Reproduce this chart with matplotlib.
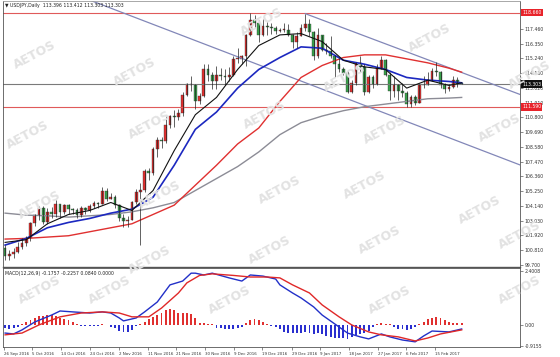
import matplotlib
matplotlib.use("Agg")
import matplotlib.pyplot as plt
import matplotlib.transforms as mtransforms
import numpy as np

# ---------------- data ----------------
opens = [101.00, 100.40, 100.50, 100.70, 101.05, 101.35, 101.70, 102.85, 103.45, 103.95,
         102.95, 103.65, 103.50, 104.25, 103.65, 104.20, 103.90, 103.85, 103.45, 103.95,
         103.80, 104.15, 104.35, 104.30, 105.25, 104.70, 104.80, 104.20, 103.20, 103.00,
         103.10, 104.45, 105.20, 105.35, 106.80, 106.60, 108.40, 109.10, 109.00, 110.20,
         110.90, 110.80, 111.10, 112.50, 113.30, 113.20, 112.00, 112.40, 114.40, 114.00,
         113.50, 114.00, 113.90, 113.80, 114.00, 115.20, 115.20, 115.40, 117.00, 118.10,
         117.90, 117.00, 117.70, 117.60, 117.50, 117.30, 117.40, 117.40, 117.00, 116.50,
         116.95, 117.50, 117.80, 117.20, 115.40, 117.00, 115.90, 115.80, 115.40, 114.80,
         114.40, 114.10, 112.70, 113.40, 114.90, 114.60, 112.70, 113.80, 113.30, 114.50,
         115.10, 114.00, 112.80, 113.20, 112.80, 112.60, 111.80, 112.30, 111.90, 113.20,
         113.20, 113.60, 114.30, 114.20, 113.20, 112.90, 113.10, 113.60, 113.396]
highs = [101.20, 100.80, 101.00, 101.40, 101.70, 101.90, 102.95, 103.50, 104.15, 104.10,
         104.00, 104.05, 104.60, 104.30, 104.30, 104.25, 104.00, 103.95, 104.10, 104.05,
         104.25, 104.55, 104.45, 105.55, 105.50, 105.10, 105.00, 104.25, 103.50, 103.35,
         104.50, 105.45, 105.85, 106.90, 107.00, 108.55, 109.35, 109.30, 110.90, 111.00,
         111.35, 111.40, 112.70, 113.40, 113.90, 113.30, 112.60, 114.80, 114.80, 114.20,
         114.70, 114.50, 114.40, 114.60, 115.40, 116.00, 115.50, 117.10, 118.66, 118.50,
         118.10, 118.20, 118.00, 117.90, 117.70, 117.50, 117.90, 117.80, 117.05, 117.20,
         117.80, 118.60, 118.20, 117.30, 117.50, 117.00, 116.40, 116.90, 115.50, 115.30,
         114.60, 114.30, 113.60, 115.00, 115.40, 114.80, 114.00, 114.00, 114.80, 115.40,
         115.20, 114.20, 113.90, 113.30, 113.40, 112.80, 112.50, 112.50, 113.30, 113.90,
         114.20, 114.50, 114.95, 114.30, 113.40, 113.30, 113.90, 113.80, 113.412]
lows = [100.10, 100.10, 100.20, 100.60, 100.90, 101.10, 101.50, 102.60, 103.10, 102.80,
        102.80, 103.20, 103.30, 103.20, 103.50, 103.55, 103.50, 103.20, 103.30, 103.50,
        103.70, 104.00, 104.00, 104.25, 104.50, 104.65, 104.00, 103.00, 102.55, 102.55,
        103.05, 104.30, 101.20, 105.20, 106.10, 106.50, 107.80, 108.50, 108.90, 110.00,
        110.10, 110.60, 110.90, 112.40, 112.80, 111.40, 111.80, 112.30, 113.50, 112.90,
        112.90, 113.60, 113.20, 113.50, 113.90, 114.90, 114.80, 114.70, 116.90, 117.60,
        116.50, 116.90, 117.00, 117.10, 117.10, 117.20, 117.20, 116.90, 116.05, 116.00,
        116.95, 117.30, 116.90, 115.10, 115.30, 115.80, 115.60, 115.30, 113.80, 114.20,
        114.00, 112.60, 112.60, 113.20, 114.20, 112.50, 112.60, 113.00, 113.20, 114.40,
        113.90, 112.10, 112.30, 112.10, 112.30, 111.60, 111.59, 111.70, 111.90, 113.00,
        113.20, 113.50, 113.90, 113.00, 112.60, 112.80, 113.00, 113.10, 113.303]
closes = [100.40, 100.50, 100.70, 101.05, 101.35, 101.70, 102.85, 103.45, 103.95, 102.95,
          103.65, 103.50, 104.25, 103.65, 104.20, 103.90, 103.85, 103.45, 103.95, 103.80,
          104.15, 104.35, 104.30, 105.25, 104.70, 104.80, 104.20, 103.20, 103.00, 103.10,
          104.45, 105.20, 105.35, 106.80, 106.60, 108.40, 109.10, 109.00, 110.20, 110.90,
          110.80, 111.10, 112.50, 113.30, 113.20, 112.00, 112.40, 114.40, 114.00, 113.50,
          114.00, 113.90, 113.80, 114.00, 115.20, 115.20, 115.40, 117.00, 118.10, 117.90,
          117.00, 117.70, 117.60, 117.50, 117.30, 117.40, 117.40, 117.00, 116.50, 116.95,
          117.50, 117.80, 117.20, 115.40, 117.00, 115.90, 115.80, 115.40, 114.80, 114.40,
          114.10, 112.70, 113.40, 114.90, 114.60, 112.70, 113.80, 113.30, 114.50, 115.10,
          114.00, 112.80, 113.20, 112.80, 112.60, 111.80, 112.30, 111.90, 113.20, 113.20,
          113.60, 114.30, 114.20, 113.20, 112.90, 113.10, 113.60, 113.30, 113.303]

# moving averages, read every few bars
ma_idx = [0, 5, 10, 15, 20, 25, 30, 35, 40, 45, 50, 55, 60, 65, 70, 75, 80, 85, 90, 95, 100, 105, 108]
ma_black = [101.4, 101.6, 102.8, 103.5, 103.8, 104.4, 103.8, 105.3, 108.3, 111.0, 112.3, 114.4, 116.2,
            117.0, 117.1, 116.5, 115.1, 114.6, 114.4, 113.0, 113.6, 113.2, 113.4]
ma_blue = [101.2, 101.7, 102.5, 102.9, 103.2, 103.6, 103.9, 104.8, 107.2, 109.9, 111.2, 113.0, 114.4,
           115.3, 116.1, 116.0, 115.1, 114.8, 114.4, 113.8, 113.6, 113.5, 113.4]
ma_red = [101.65, 101.7, 101.8, 101.9, 102.2, 102.5, 102.8, 103.5, 104.2, 105.7, 107.2, 108.8, 110.0,
          112.0, 113.8, 114.7, 115.3, 115.5, 115.5, 115.2, 114.9, 114.5, 114.2]
ma_gray = [103.6, 103.45, 103.4, 103.3, 103.4, 103.5, 103.7, 104.0, 104.4, 105.3, 106.2, 107.1, 108.2,
           109.5, 110.4, 110.9, 111.3, 111.6, 111.8, 112.0, 112.2, 112.25, 112.3]

# MACD panel
macd_idx = [0, 2, 4, 7, 11, 13, 16, 20, 23, 25, 27, 28, 31, 33, 36, 39, 42, 44, 45, 47, 49, 53, 56,
            58, 61, 64, 65, 68, 70, 73, 75, 79, 81, 84, 86, 89, 91, 94, 97, 99, 101, 105, 108]
macd_main = [-0.36, -0.40, -0.22, 0.13, 0.44, 0.62, 0.58, 0.53, 0.58, 0.53, 0.31, 0.18, 0.31, 0.58,
             1.02, 1.78, 1.95, 2.30, 2.30, 2.22, 2.30, 2.09, 1.95, 2.22, 2.17, 2.04, 1.78, 1.42, 1.20,
             0.80, 0.44, -0.09, -0.36, -0.53, -0.62, -0.40, -0.53, -0.67, -0.75, -0.49, -0.27, -0.31,
             -0.18]
sig_idx = [0, 4, 8, 13, 18, 23, 27, 30, 34, 37, 41, 43, 46, 49, 54, 58, 62, 65, 68, 72, 75, 79, 82,
           86, 89, 93, 97, 100, 103, 108]
macd_signal = [-0.44, -0.36, 0.0, 0.36, 0.53, 0.58, 0.53, 0.36, 0.36, 0.75, 1.42, 1.87, 2.20, 2.27,
               2.20, 2.13, 2.13, 2.09, 1.78, 1.42, 0.89, 0.36, 0.0, -0.31, -0.44, -0.53, -0.71, -0.58,
               -0.40, -0.22]
macd_hist = [-0.15, -0.20, -0.15, -0.10, 0.05, 0.12, 0.20, 0.30, 0.38, 0.40, 0.42, 0.44, 0.38, 0.32,
             0.28, 0.20, 0.12, 0.05, -0.03, -0.05, -0.05, -0.04, -0.03, 0.02, -0.02, -0.08, -0.15,
             -0.28, -0.33, -0.30, -0.22, -0.05, 0.05, 0.15, 0.25, 0.35, 0.45, 0.55, 0.65, 0.71, 0.66,
             0.55, 0.53, 0.52, 0.50, 0.31, 0.10, 0.08, 0.05, 0.03, -0.12, -0.15, -0.20, -0.20, -0.18,
             -0.15, -0.08, 0.10, 0.20, 0.25, 0.22, 0.12, 0.05, -0.05, -0.10, -0.20, -0.30, -0.35,
             -0.38, -0.38, -0.35, -0.30, -0.35, -0.40, -0.38, -0.42, -0.48, -0.52, -0.58, -0.60,
             -0.58, -0.62, -0.55, -0.45, -0.40, -0.35, -0.25, -0.10, 0.05, 0.07, 0.05, 0.02, -0.10,
             -0.18, -0.20, -0.22, -0.20, -0.10, 0.05, 0.15, 0.25, 0.33, 0.36, 0.30, 0.20, 0.12, 0.10,
             0.08, 0.08]

# trend lines (bar index, price)
channel_upper = [(20, 119.62), (122, 107.2)]
channel_lower = [(71, 118.60), (122, 112.5)]
resistance = 118.66
support = 111.59
last_price = 113.303

price_ticks = [99.70, 100.81, 101.92, 103.03, 104.14, 105.25, 106.36, 107.47, 108.58, 109.69,
               110.80, 111.91, 113.02, 114.13, 115.24, 116.35, 117.46]
macd_ticks = [2.4008, 0.0, -0.9155]
macd_tick_labels = ["2.4008", "0.00", "-0.9155"]
date_labels = ["26 Sep 2016", "5 Oct 2016", "14 Oct 2016", "24 Oct 2016", "2 Nov 2016",
               "11 Nov 2016", "21 Nov 2016", "30 Nov 2016", "9 Dec 2016", "19 Dec 2016",
               "29 Dec 2016", "9 Jan 2017", "18 Jan 2017", "27 Jan 2017", "6 Feb 2017",
               "15 Feb 2017"]
# bar position of each date label (MT4 spaces them evenly)
date_pos = [-0.3, 6.3, 13.2, 20.1, 26.9, 33.8, 40.4, 47.3, 54.1, 60.8, 67.9, 74.5, 81.4, 88.2,
            94.9, 101.8]

header = "USDJPY,Daily  113.396 113.412 113.303 113.303"
macd_header = "MACD(12,26,9) -0.1757 -0.2257 0.0840 0.0000"

# ---------------- figure ----------------
W, H = 560, 357
fig = plt.figure(figsize=(W / 100, H / 100), dpi=100)
fig.patch.set_facecolor("white")


def px_axes(x0, y0, x1, y1):
    return fig.add_axes([x0 / W, 1 - y1 / H, (x1 - x0) / W, (y1 - y0) / H])


ax = px_axes(3, 1, 520, 267)
mx = px_axes(3, 268, 520, 347)

UP = "#e0302f"
DOWN = "#38a04a"
idx = np.arange(len(closes))
o = np.array(opens)
c = np.array(closes)
body_low = np.minimum(o, c)
body_h = np.maximum(np.abs(c - o), 0.03)
cols = [UP if cc >= oo else DOWN for oo, cc in zip(o, c)]

# watermark
wm = [(35, 55), (135, 72), (262, 22), (345, 78), (430, 38), (530, 75),
      (28, 135), (150, 125), (265, 115), (385, 130), (500, 128),
      (40, 205), (160, 195), (280, 190), (365, 185), (480, 210),
      (150, 260), (270, 250), (380, 240), (520, 235),
      (40, 290), (110, 290), (230, 300), (390, 300), (520, 290)]
for x, y in wm:
    fig.text(x / W, 1 - y / H, "AETOS", fontsize=9, fontweight="bold", color="#e2e2e2",
             rotation=28, ha="center", va="center", zorder=0)

ax.patch.set_alpha(0)
mx.patch.set_alpha(0)

ax.axhline(resistance, color="#e05a5a", lw=0.8)
ax.axhline(support, color="#e05a5a", lw=0.8)
ax.axhline(last_price, color="#7a7a7a", lw=0.8)
for line in (channel_upper, channel_lower):
    ax.plot([p[0] for p in line], [p[1] for p in line], color="#8287b8", lw=0.9)

ax.plot(ma_idx, ma_gray, color="#8c8c96", lw=1.0)
ax.plot(ma_idx, ma_red, color="#e03030", lw=1.0)
ax.plot(ma_idx, ma_blue, color="#1c28c0", lw=1.2)

ax.vlines(idx, lows, highs, color="#222222", lw=0.5)
ax.bar(idx, body_h, bottom=body_low, width=0.65, color=cols, edgecolor="#333333", linewidth=0.25)
ax.plot(ma_idx, ma_black, color="#111111", lw=0.8)

ax.set_xlim(-0.5, 121.8)
ax.set_ylim(99.55, 119.55)
ax.yaxis.tick_right()
ax.set_yticks(price_ticks)
ax.set_yticklabels(["%.3f" % v for v in price_ticks])
ax.set_xticks([])
ax.tick_params(axis="y", labelsize=3.3, length=2, width=0.4, pad=1.5, colors="#333333")
for s in ax.spines.values():
    s.set_color("#555555")
    s.set_linewidth(0.6)
ax.spines["top"].set_color("#9a9a9a")
ax.spines["bottom"].set_linewidth(1.0)

trans = mtransforms.blended_transform_factory(ax.transAxes, ax.transData)
for val, bg in [(resistance, "#e8232a"), (support, "#e8232a"), (last_price, "#111111")]:
    ax.text(1.004, val, "%.3f" % val, transform=trans, fontsize=3.3, color="white",
            va="center", ha="left", bbox=dict(boxstyle="square,pad=0.25", fc=bg, ec="none"))

ax.text(0.004, 0.992, "\u25bc " + header, transform=ax.transAxes, fontsize=3.3,
        color="#222222", va="top", ha="left")

# MACD
hcols = [UP if h > 0 else "#2a2fcf" for h in macd_hist]
mx.bar(idx, macd_hist, width=0.45, color=hcols)
mx.plot(macd_idx, macd_main, color="#2230c8", lw=1.0)
mx.plot(sig_idx, macd_signal, color="#e02828", lw=1.0)
mx.set_xlim(-0.5, 121.8)
mx.set_ylim(-0.98, 2.53)
mx.yaxis.tick_right()
mx.set_yticks(macd_ticks)
mx.set_yticklabels(macd_tick_labels)
mx.set_xticks(date_pos)
mx.set_xticklabels(date_labels, ha="left")
mx.tick_params(labelsize=3.3, length=2, width=0.4, pad=1.5, colors="#333333")
mx.tick_params(axis="x", labelsize=2.9)
for s in mx.spines.values():
    s.set_color("#555555")
    s.set_linewidth(0.6)
mx.text(0.004, 0.96, macd_header, transform=mx.transAxes, fontsize=3.3, color="#222222",
        va="top", ha="left")

fig.savefig("out.png", dpi=100)
